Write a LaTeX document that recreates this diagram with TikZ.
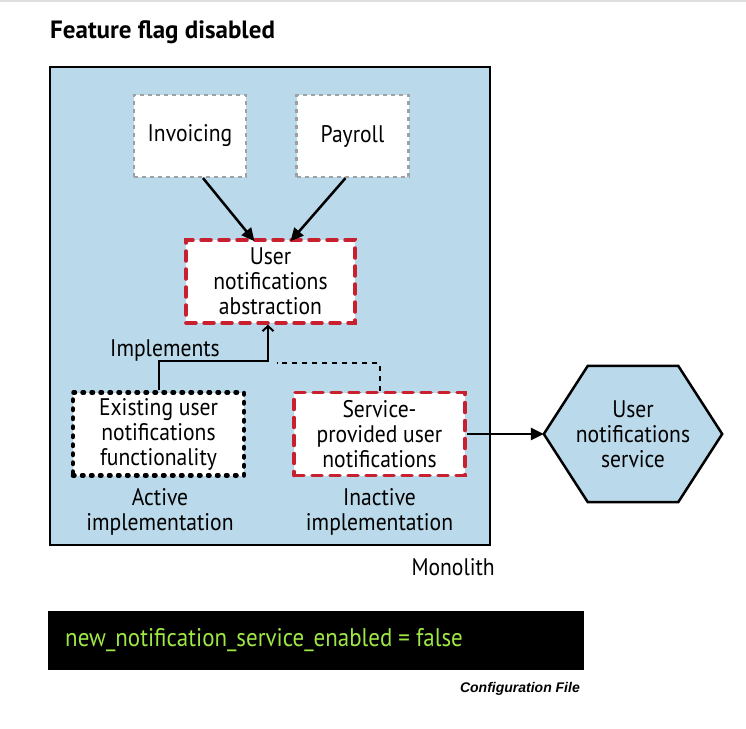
\documentclass[tikz,border=0pt]{standalone}
\usepackage{fontspec}
\setmainfont[FakeStretch=0.9]{PT Sans}
\newfontfamily\titlefont{PT Sans}
\newfontfamily\cfgfont{Liberation Sans}
\usetikzlibrary{arrows.meta,shapes.geometric}
\definecolor{mono}{RGB}{186,217,234}
\definecolor{flagred}{RGB}{200,32,47}
\definecolor{codegreen}{RGB}{158,232,70}
\definecolor{dashgray}{RGB}{160,160,160}
\begin{document}
\begin{tikzpicture}[x=1pt,y=-1pt,
  txt/.style={font=\fontsize{24}{25}\selectfont, align=center, inner sep=0pt},
  graybox/.style={txt, draw=dashgray, fill=white, line width=2.2pt, dash pattern=on 4pt off 4pt, minimum width=112pt, minimum height=82pt},
  redbox/.style={txt, draw=flagred, fill=white, line width=3.5pt, dash pattern=on 10pt off 8pt, line cap=round, minimum width=169pt, minimum height=83pt},
  dotbox/.style={txt, draw=black, fill=white, line width=4.5pt, dash pattern=on 1.5pt off 7.5pt, line cap=round, minimum width=171pt, minimum height=83pt},
  fillarrow/.style={line width=2.5pt, -{Triangle[length=13pt,width=12pt]}},
  openarrow/.style={line width=2pt, -{Straight Barb[length=5pt,width=11pt]}},
]
\useasboundingbox (0,0) rectangle (746,728);
\fill[white] (0,0) rectangle (746,728);
\draw[gray!25, line width=2pt] (0,1) -- (746,1);

% title
\node[anchor=west, inner sep=0pt, font=\titlefont\fontsize{25}{28}\selectfont\bfseries] (title) at (50,32) {Feature flag disabled};

% monolith
\node[draw=black, fill=mono, line width=2.5pt, minimum width=440pt, minimum height=478pt, inner sep=0pt] (mono) at (270,306) {};
\node[txt, anchor=east] (monolbl) at (495,567) {Monolith};

% nodes
\node[graybox] (inv) at (190,136) {Invoicing};
\node[graybox] (pay) at (352.5,136) {Payroll};
\node[redbox] (abs) at (270.5,281.5) {User\\notifications\\abstraction};
\node[dotbox] (exist) at (158.5,434) {Existing user\\notifications\\functionality};
\node[redbox, minimum width=171pt] (serv) at (379.5,434) {Service-\\provided user\\notifications};

\node[txt] (actlbl) at (160,512) {Active\\implementation};
\node[txt] (inactlbl) at (379.5,512) {Inactive\\implementation};

% hexagon
\node[txt, minimum width=178pt, minimum height=136pt] (hex) at (633,434) {};
\draw[black, fill=mono, line width=2.5pt, line join=miter]
  (hex.west) -- ([xshift=44pt]hex.north west) -- ([xshift=-44pt]hex.north east)
  -- (hex.east) -- ([xshift=-44pt]hex.south east) -- ([xshift=44pt]hex.south west) -- cycle;
\node[txt] (hextxt) at (hex.center) {User\\notifications\\service};

% connectors
\draw[fillarrow] ([xshift=13pt]inv.south) -- ([xshift=-16pt,yshift=-3pt]abs.north);
\draw[fillarrow] ([xshift=-7pt]pay.south) -- ([xshift=20pt,yshift=-3pt]abs.north);
\draw[openarrow] (exist.north) -- ++(0,-29) -| ([xshift=-2.5pt]abs.south);
\node[txt, anchor=center] (impl) at (165,350) {Implements};
\coordinate (dend) at (277,363);
\draw[black, line width=2pt, dash pattern=on 5pt off 5pt] (serv.north) |- (dend);
\draw[fillarrow] (serv.east) -- (hex.west);

% config
\node[fill=black, minimum width=536pt, minimum height=59pt, inner sep=0pt] (cfg) at (316,640.5) {};
\node[anchor=west, inner sep=0pt, text=codegreen, font=\fontsize{25.5}{27}\selectfont] (cfgtxt) at (65,640) {new\_notification\_service\_enabled = false};
\node[anchor=east, inner sep=0pt, font=\cfgfont\fontsize{14}{16}\selectfont\bfseries\itshape] (cfglbl) at (580,689) {Configuration File};
\end{tikzpicture}
\end{document}
